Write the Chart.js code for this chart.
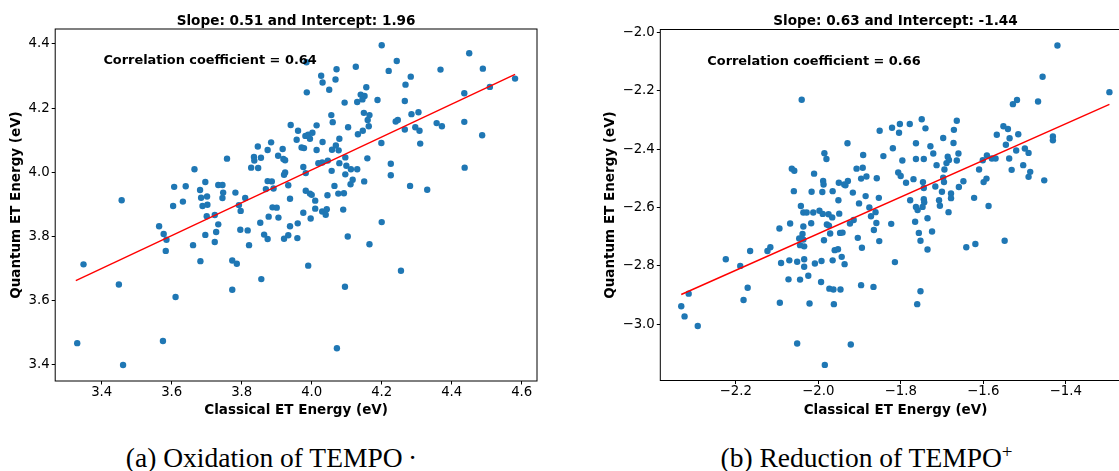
<!DOCTYPE html>
<html><head><meta charset="utf-8">
<script src="https://cdn.jsdelivr.net/npm/chart.js@4"></script>
<style>
html,body{margin:0;padding:0;background:#fff;overflow:hidden;width:1119px;height:471px;}
#wrap{position:relative;width:1119px;height:471px;overflow:hidden;background:#fff;}
canvas{position:absolute;top:0;}
.cap{position:absolute;font-family:'Liberation Serif',serif;font-size:27.5px;line-height:27.5px;white-space:nowrap;color:#000;transform:translateX(-50%);}
.cap sup{font-size:19px;line-height:0;vertical-align:9px;}
</style></head><body>
<div id="wrap">
<canvas id="c1" width="560" height="430" style="left:0;width:560px;height:430px"></canvas>
<canvas id="c2" width="590" height="430" style="left:560px;width:590px;height:430px"></canvas>
<div class="cap" style="left:271.5px;top:443.7px">(a) Oxidation of TEMPO&#8201;·</div>
<div class="cap" style="left:866.5px;top:443.7px">(b) Reduction of TEMPO<sup>+</sup></div>
</div>
<script>
// ---------------- data ----------------
const leftTitle = 'Slope: 0.51 and Intercept: 1.96';
const leftNote = 'Correlation coefficient = 0.64';
const rightTitle = 'Slope: 0.63 and Intercept: -1.44';
const rightNote = 'Correlation coefficient = 0.66';
const xLabel = 'Classical ET Energy (eV)';
const yLabel = 'Quantum ET Energy (eV)';

const leftXTicks = [3.4, 3.6, 3.8, 4.0, 4.2, 4.4, 4.6];
const leftYTicks = [3.4, 3.6, 3.8, 4.0, 4.2, 4.4];
const rightXTicks = [-2.2, -2.0, -1.8, -1.6, -1.4];
const rightYTicks = [-3.0, -2.8, -2.6, -2.4, -2.2, -2.0];

const leftX = [
3.457,3.607,3.640,3.632,3.604,3.665,3.681,3.696,3.684,3.701,
3.688,3.702,3.733,3.745,3.747,3.745,3.758,3.782,3.810,3.792,
3.827,3.835,3.836,3.847,3.846,3.855,3.874,3.884,3.874,3.869,
3.891,
4.200,4.450,4.243,3.985,4.126,4.071,4.027,4.031,4.068,4.050,
3.986,4.220,4.283,4.268,4.368,4.489,4.509,4.581,4.436,4.156,
4.140,4.151,4.145,4.130,4.094,4.188,4.266,4.165,4.149,4.160,
4.163,4.146,4.132,4.104,4.056,4.060,4.285,4.305,4.240,4.246,
4.266,4.296,4.308,4.310,4.357,4.372,4.436,4.487,4.437,3.940,
3.961,3.982,3.990,4.002,4.014,3.995,3.957,4.031,4.079,4.069,
4.058,4.077,4.199,3.971,3.978,3.917,3.904,3.919,3.924,4.014,
4.030,4.019,4.046,4.096,4.099,4.112,4.130,4.079,4.057,4.096,
4.117,4.111,4.150,4.159,4.226,4.226,4.281,4.330,3.976,3.983,
3.924,3.921,3.886,3.933,3.983,3.995,4.000,3.938,4.065,4.076,
4.092,4.045,4.010,
3.564,3.577,3.585,3.583,3.661,3.696,3.700,3.723,3.733,3.727,
3.723,3.682,3.773,3.786,3.773,3.796,3.817,3.821,3.797,3.853,
3.877,3.864,3.874,3.856,3.888,3.900,3.905,3.348,3.330,3.449,
3.461,3.575,3.611,
3.938,3.933,3.921,3.959,3.960,3.976,3.997,4.010,4.030,4.040,
4.043,4.090,4.200,4.103,4.165,3.990,4.255,4.095,4.072
];
const leftY = [
3.912,3.954,3.956,3.908,3.894,4.009,3.944,3.969,3.920,3.924,
3.894,3.898,3.960,3.960,3.936,3.919,4.042,3.936,3.919,3.897,
4.014,4.047,4.036,4.013,4.080,4.045,4.069,4.093,3.972,3.947,
3.949,
4.396,4.371,4.347,4.343,4.329,4.321,4.301,4.280,4.289,4.257,
4.249,4.316,4.298,4.273,4.320,4.323,4.266,4.292,4.246,4.265,
4.242,4.238,4.227,4.219,4.217,4.225,4.222,4.178,4.185,4.163,
4.143,4.129,4.118,4.140,4.178,4.156,4.181,4.187,4.158,4.163,
4.133,4.140,4.129,4.089,4.153,4.143,4.157,4.115,4.014,4.147,
4.129,4.113,4.117,4.123,4.146,4.104,4.101,4.094,4.104,4.083,
4.070,4.068,4.091,4.077,4.075,4.072,4.051,4.041,4.037,4.069,
4.030,4.028,4.036,4.046,4.020,4.009,4.009,4.028,4.004,3.993,
3.976,3.962,3.971,4.043,4.026,3.990,3.957,3.945,4.016,3.997,
3.999,3.992,3.971,3.959,3.942,3.933,3.929,3.917,3.957,3.933,
3.934,3.928,3.911,
3.831,3.807,3.789,3.754,3.772,3.804,3.862,3.866,3.837,3.813,
3.782,3.722,3.724,3.714,3.633,3.820,3.818,3.772,3.879,3.842,
3.861,3.805,3.791,3.666,3.890,3.889,3.858,3.712,3.466,3.649,
3.398,3.473,3.610,
3.831,3.803,3.792,3.794,3.840,3.873,3.855,3.886,3.877,3.867,
3.884,3.883,3.844,3.799,3.775,3.708,3.692,3.642,3.450
];
const leftFitX = [3.326, 4.581];
const leftFitY = [3.661, 4.305];

const rightX = [
-2.040,-2.064,-2.058,-2.059,-2.010,-1.985,-1.980,-1.929,-1.891,-1.907,
-1.892,-1.883,-1.896,-1.988,-1.987,-1.950,-1.937,-1.928,-1.934,-1.965,
-1.990,-2.016,-1.916,-1.951,-1.901,-1.885,-2.042,
-1.420,-1.456,-1.294,-1.467,-1.528,-1.518,-1.749,-1.664,-1.802,-1.778,
-1.821,-1.740,-1.851,-1.804,-1.671,-1.697,-1.551,-1.540,-1.515,-1.567,
-1.431,-1.431,-1.536,-1.763,-1.728,-1.672,-1.819,-1.842,-1.721,-1.660,
-1.545,-1.499,-1.490,-1.520,-1.796,-1.763,-1.744,-1.686,-1.683,-1.689,
-1.664,-1.713,-1.694,-1.591,-1.601,-1.579,-1.570,-1.537,-1.610,-1.531,
-1.503,-1.486,-1.490,-1.452,-1.806,-1.800,-1.858,-1.787,-1.769,-1.746,
-1.744,-1.716,-1.697,-1.695,-1.700,-1.678,-1.678,-1.659,-1.648,-1.599,
-1.592,-1.622,-1.587,-1.777,-1.744,-1.743,-1.707,-1.853,
-2.036,-2.028,-2.012,-1.997,-1.989,-1.975,-1.966,-1.949,
-2.094,-2.068,-2.036,-2.017,-2.038,-2.046,-2.036,-2.044,-2.034,-1.979,
-1.974,-1.971,-1.986,-1.947,-1.941,-1.923,-1.914,-1.904,-1.894,-1.960,
-1.952,-1.943,-1.965,-1.936,-1.992,-2.008,-2.034,-2.051,-2.070,-2.090,
-2.034,-2.024,-2.044,-2.072,-1.993,-1.973,-1.963,-1.946,-1.896,-1.962,
-2.021,-2.093,-2.181,-2.171,-2.189,-2.224,-2.165,-2.123,-2.116,-2.314,
-2.332,-2.324,-2.292,-2.051,-1.921,-1.984,
-1.876,-1.872,-1.861,-1.859,-1.865,-1.852,-1.823,-1.814,-1.866,-1.763,
-1.759,-1.747,-1.765,-1.735,-1.756,-1.752,-1.724,-1.735,-1.705,-1.684,
-1.641,-1.619,-1.548,-1.752,-1.760
];
const rightY = [
-2.231,-2.467,-2.474,-2.544,-2.484,-2.414,-2.434,-2.380,-2.420,-2.467,
-2.464,-2.494,-2.501,-2.509,-2.521,-2.515,-2.521,-2.509,-2.524,-2.544,
-2.547,-2.546,-2.549,-2.575,-2.586,-2.561,-2.595,
-2.045,-2.152,-2.205,-2.237,-2.246,-2.232,-2.298,-2.303,-2.314,-2.314,
-2.327,-2.329,-2.337,-2.344,-2.334,-2.362,-2.322,-2.331,-2.349,-2.351,
-2.357,-2.370,-2.363,-2.380,-2.390,-2.379,-2.397,-2.424,-2.415,-2.415,
-2.385,-2.398,-2.413,-2.405,-2.439,-2.434,-2.434,-2.426,-2.437,-2.448,
-2.439,-2.455,-2.470,-2.422,-2.438,-2.432,-2.432,-2.432,-2.470,-2.471,
-2.455,-2.478,-2.495,-2.507,-2.480,-2.492,-2.500,-2.515,-2.503,-2.513,
-2.533,-2.528,-2.498,-2.513,-2.546,-2.552,-2.568,-2.530,-2.510,-2.513,
-2.501,-2.567,-2.595,-2.575,-2.572,-2.582,-2.575,-2.567,
-2.617,-2.617,-2.617,-2.611,-2.622,-2.623,-2.634,-2.621,
-2.672,-2.655,-2.665,-2.654,-2.691,-2.706,-2.710,-2.729,-2.733,-2.658,
-2.662,-2.689,-2.712,-2.687,-2.686,-2.655,-2.643,-2.704,-2.738,-2.746,
-2.743,-2.769,-2.781,-2.794,-2.783,-2.792,-2.777,-2.786,-2.781,-2.790,
-2.803,-2.834,-2.847,-2.846,-2.855,-2.878,-2.881,-2.881,-2.866,-2.931,
-2.929,-2.926,-2.917,-2.875,-2.800,-2.777,-2.749,-2.749,-2.736,-2.895,
-2.938,-2.973,-3.006,-3.066,-3.069,-3.139,
-2.600,-2.630,-2.616,-2.653,-2.677,-2.715,-2.656,-2.787,-2.872,-2.598,
-2.609,-2.598,-2.649,-2.637,-2.687,-2.714,-2.682,-2.744,-2.594,-2.616,
-2.736,-2.725,-2.714,-2.887,-2.931
];
const rightFitX = [-2.332, -1.294];
const rightFitY = [-2.898, -2.247];

// ---------------- drawing ----------------
const FONT = "'DejaVu Sans', sans-serif";
function fmt(v){ return (v < 0 ? '\u2212' : '') + Math.abs(v).toFixed(1); }

const annot = {
  id: 'annot',
  afterDatasetsDraw(chart, args, opts) {
    const ctx = chart.ctx, a = chart.chartArea;
    ctx.save();
    ctx.strokeStyle = '#000';
    ctx.lineWidth = 1;
    ctx.strokeRect(a.left, a.top, a.right - a.left, a.bottom - a.top);
    ctx.fillStyle = '#000';
    ctx.textBaseline = 'alphabetic';
    ctx.font = 'bold 13.6px ' + FONT;
    ctx.textAlign = 'center';
    ctx.fillText(opts.title, (a.left + a.right) / 2, a.top - 4.5);
    ctx.font = 'bold 12.9px ' + FONT;
    ctx.textAlign = 'left';
    ctx.fillText(opts.note, a.left + 0.1 * (a.right - a.left), a.top + 0.1 * (a.bottom - a.top));
    ctx.restore();
  }
};

function pts(xs, ys){ return xs.map((x, i) => ({x: x, y: ys[i]})); }

function makeChart(id, c){
  const tickFont = {family: FONT, size: 13.3};
  const titleFont = {family: FONT, size: 13.5, weight: 'bold'};
  const grid = {display: true, drawOnChartArea: false, drawTicks: true, tickLength: 3.5, color: '#000', lineWidth: 1};
  return new Chart(document.getElementById(id), {
    type: 'scatter',
    data: {datasets: [
      {type: 'line', data: pts(c.fitX, c.fitY), borderColor: '#ff0000', borderWidth: 1.4,
       pointRadius: 0, fill: false, tension: 0},
      {data: pts(c.xs, c.ys), backgroundColor: '#1f77b4', borderWidth: 0, pointRadius: 3.2, pointHoverRadius: 3.2}
    ]},
    options: {
      responsive: false, animation: false, devicePixelRatio: 1, events: [],
      layout: {padding: c.pad},
      plugins: {legend: {display: false}, tooltip: {enabled: false}, title: {display: false},
                annot: {title: c.title, note: c.note}},
      scales: {
        x: {type: 'linear', position: 'bottom', min: c.xmin, max: c.xmax,
            afterBuildTicks: s => { s.ticks = c.xticks.map(v => ({value: v})); },
            afterFit: s => { s.height = c.xh; },
            grid: grid, border: {display: false},
            ticks: {autoSkip: false, maxRotation: 0, padding: 0, color: '#000', font: tickFont, callback: v => fmt(v)},
            title: {display: true, text: xLabel, color: '#000', font: titleFont, padding: {top: 0, bottom: c.xtp}}},
        y: {type: 'linear', position: 'left', min: c.ymin, max: c.ymax,
            afterBuildTicks: s => { s.ticks = c.yticks.map(v => ({value: v})); },
            afterFit: s => { s.width = c.yw; },
            grid: grid, border: {display: false},
            ticks: {autoSkip: false, padding: 2, color: '#000', font: tickFont, callback: v => fmt(v)},
            title: {display: true, text: yLabel, color: '#000', font: titleFont, padding: {top: c.ytp, bottom: 0}}}
      }
    },
    plugins: [annot]
  });
}

makeChart('c1', {
  xs: leftX, ys: leftY, fitX: leftFitX, fitY: leftFitY,
  title: leftTitle, note: leftNote, xticks: leftXTicks, yticks: leftYTicks,
  xmin: 3.2671, xmax: 4.6437, ymin: 3.3479, ymax: 4.4468,
  pad: {left: 0, right: 23, top: 29, bottom: 0}, xh: 49, yw: 55.2, xtp: 11.9, ytp: 8.3
});
makeChart('c2', {
  xs: rightX, ys: rightY, fitX: rightFitX, fitY: rightFitY,
  title: rightTitle, note: rightNote, xticks: rightXTicks, yticks: rightYTicks,
  xmin: -2.3828, xmax: -1.2424, ymin: -3.1925, ymax: -1.9904,
  pad: {left: 0, right: 19.3, top: 29.5, bottom: 0}, xh: 49.5, yw: 100.3, xtp: 11.9, ytp: 41.9
});
</script>
</body></html>
